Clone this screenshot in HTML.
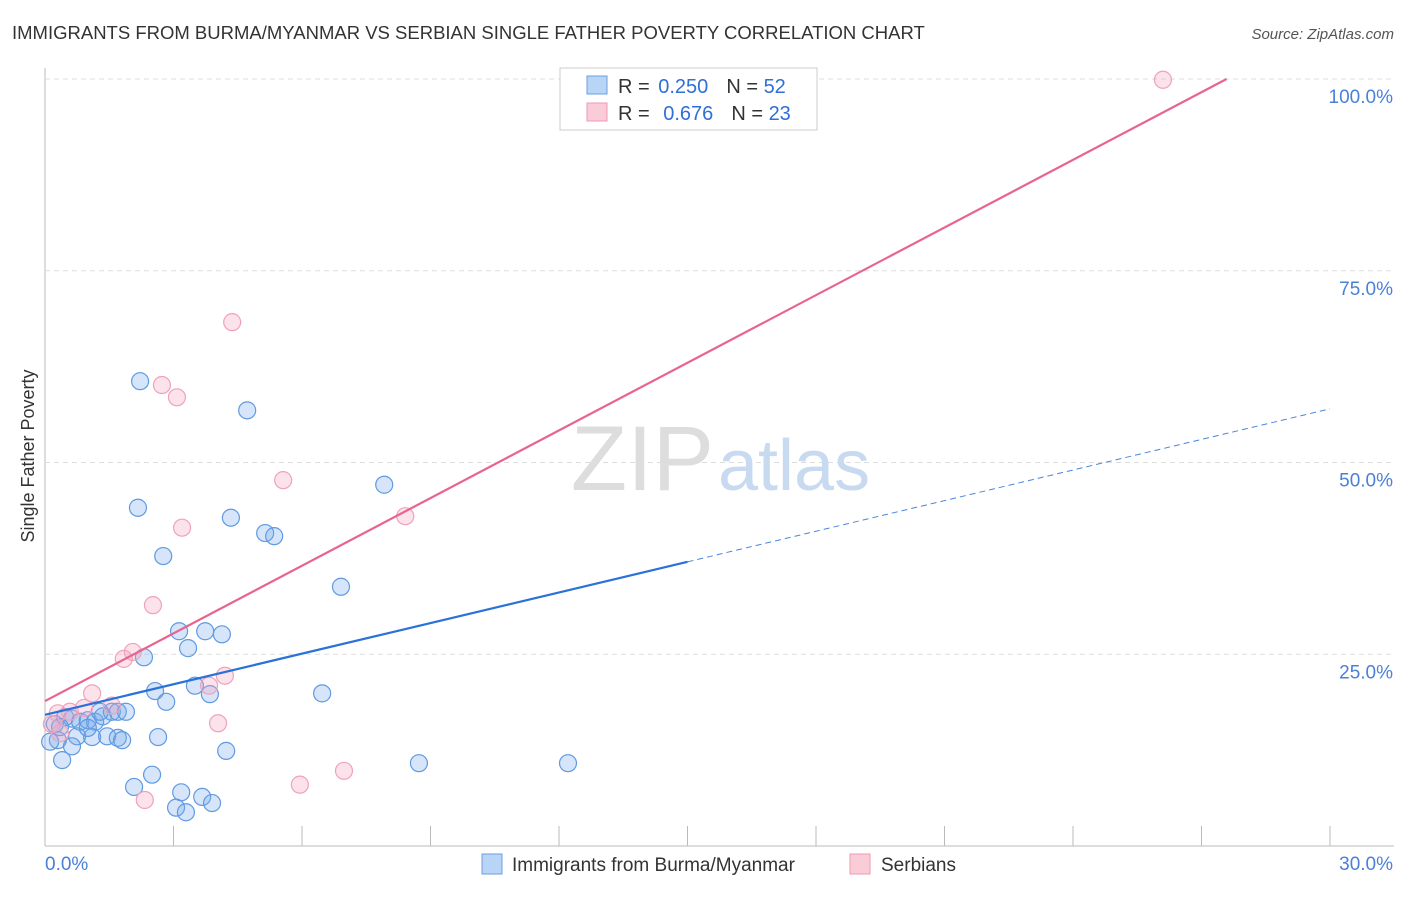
<!DOCTYPE html>
<html><head><meta charset="utf-8"><style>
body{margin:0;background:#fff;font-family:"Liberation Sans",sans-serif;}
svg text{font-family:"Liberation Sans",sans-serif;}
</style></head><body>
<svg id="chart" width="1406" height="892">
<text x="12" y="39" font-size="18.5" fill="#333">IMMIGRANTS FROM BURMA/MYANMAR VS SERBIAN SINGLE FATHER POVERTY CORRELATION CHART</text>
<text x="1394" y="39" font-size="15" fill="#555" font-style="italic" text-anchor="end">Source: ZipAtlas.com</text>
<text x="34" y="456" font-size="18" fill="#333" text-anchor="middle" transform="rotate(-90 34 456)">Single Father Poverty</text>
<g id="grid"></g>
<text x="714" y="490" font-size="92" fill="#ddd" text-anchor="end" font-family="Liberation Serif">ZIP</text>
<text x="718" y="490" font-size="72" fill="#c8daf0">atlas</text>
<g id="marks"></g>
<g id="lines"></g>
<g>
<rect x="560" y="68" width="257" height="62" fill="#fff" stroke="#ccc"/>
<rect x="587" y="76" width="20" height="18" fill="#b8d4f6" stroke="#6a9fe0"/>
<text x="618" y="93" font-size="20" fill="#333">R = <tspan fill="#2f6fd6" dx="3">0.250</tspan><tspan dx="18">N = </tspan><tspan fill="#2f6fd6">52</tspan></text>
<rect x="587" y="103" width="20" height="18" fill="#f9ccd8" stroke="#ee9ab3"/>
<text x="618" y="120" font-size="20" fill="#333">R = <tspan fill="#2f6fd6" dx="8">0.676</tspan><tspan dx="18">N = </tspan><tspan fill="#2f6fd6">23</tspan></text>
</g>
<g>
<rect x="482" y="854" width="20" height="20" fill="#b8d4f6" stroke="#6a9fe0"/>
<text x="512" y="871" font-size="19" fill="#333">Immigrants from Burma/Myanmar</text>
<rect x="850" y="854" width="20" height="20" fill="#f9ccd8" stroke="#ee9ab3"/>
<text x="881" y="871" font-size="19" fill="#333">Serbians</text>
</g>
</svg>
<script>
const xTicks=[0,3,6,9,12,15,18,21,24,27,30];
const yTicks=[25,50,75,100];
const yTickLabels=["25.0%","50.0%","75.0%","100.0%"];
const blueX=[2.22,4.72,2.17,4.34,7.92,5.14,5.35,2.76,6.91,3.13,3.74,4.13,3.34,2.31,2.57,3.50,3.85,2.83,6.47,0.23,0.47,0.63,0.82,1.00,1.17,1.35,1.56,1.70,1.89,0.30,0.12,0.75,1.10,1.45,1.70,1.80,2.64,0.63,0.40,4.23,8.73,12.21,2.50,2.08,3.18,3.67,3.06,3.90,3.29,0.35,1.28,1.00];
const blueY=[60.6,56.8,44.1,42.8,47.1,40.8,40.4,37.8,33.8,28.0,28.0,27.6,25.8,24.6,20.2,20.9,19.8,18.8,19.9,15.9,16.8,16.6,16.2,16.4,16.2,16.9,17.5,17.5,17.5,13.8,13.6,14.3,14.2,14.3,14.1,13.8,14.2,13.0,11.2,12.4,10.8,10.8,9.3,7.7,7.0,6.4,5.0,5.6,4.4,15.5,17.5,15.4];
const pinkX=[26.10,4.37,2.73,3.08,5.56,8.41,3.20,2.52,2.05,1.84,1.10,4.20,3.83,4.04,5.95,6.98,2.33,0.30,0.58,0.91,1.56,0.16,0.35];
const pinkY=[99.9,68.3,60.1,58.5,47.7,43.0,41.5,31.4,25.3,24.4,19.9,22.2,20.9,16.0,8.0,9.8,6.0,17.3,17.5,18.0,18.3,15.9,14.7];
const blueLine=[17.1,1.33];   // intercept, slope
const pinkLine=[18.9,2.94];
const NS="http://www.w3.org/2000/svg";
const sx=v=>45+v*(1285/30);
const sy=v=>846-v*7.67;
function mk(t,a,p){const e=document.createElementNS(NS,t);for(const k in a)e.setAttribute(k,a[k]);p.appendChild(e);return e;}
const grid=document.getElementById('grid');
let ax=mk('line',{x1:45,y1:68,x2:45,y2:846,stroke:'#bbb'},grid);


let bx=mk('line',{x1:45,y1:846,x2:1394,y2:846,stroke:'#bbb'},grid);


yTicks.forEach((t,i)=>{
 const g=mk('line',{x1:45,y1:sy(t),x2:1394,y2:sy(t),stroke:'#ddd','stroke-dasharray':'5,4'},grid);
 
 
 const l=mk('text',{x:1393,y:sy(t)+24,'font-size':19,fill:'#4a80d8','text-anchor':'end'},grid);
 l.textContent=yTickLabels[i];
 
 
});
xTicks.forEach(t=>{
 const k=mk('line',{x1:sx(t),y1:826,x2:sx(t),y2:846,stroke:'#bbb'},grid);
 
 
});
let l0=mk('text',{x:45,y:870,'font-size':19,fill:'#4a80d8'},grid);l0.textContent=xTicks[0].toFixed(1)+'%';


let l1=mk('text',{x:1393,y:870,'font-size':19,fill:'#4a80d8','text-anchor':'end'},grid);l1.textContent=xTicks[xTicks.length-1].toFixed(1)+'%';


const marks=document.getElementById('marks');
blueX.forEach((x,i)=>{
 const c=mk('circle',{cx:sx(x),cy:sy(blueY[i]),r:8.5,fill:'rgba(120,170,235,0.3)',stroke:'#5f9ae2','stroke-width':1.2},marks);
 
 
});
pinkX.forEach((x,i)=>{
 const c=mk('circle',{cx:sx(x),cy:sy(pinkY[i]),r:8.5,fill:'rgba(245,160,190,0.3)',stroke:'#f0a2ba','stroke-width':1.2},marks);
 
 
});
const lines=document.getElementById('lines');
const pEnd=(100-pinkLine[0])/pinkLine[1];
let pl=mk('line',{x1:sx(0),y1:sy(pinkLine[0]),x2:sx(pEnd),y2:sy(100),stroke:'#e8648f','stroke-width':2.2},lines);


let bl=mk('line',{x1:sx(0),y1:sy(blueLine[0]),x2:sx(15),y2:sy(blueLine[0]+15*blueLine[1]),stroke:'#2a72d8','stroke-width':2.2},lines);


let bd=mk('line',{x1:sx(15),y1:sy(blueLine[0]+15*blueLine[1]),x2:sx(30),y2:sy(blueLine[0]+30*blueLine[1]),stroke:'#4a86d8','stroke-width':1,'stroke-dasharray':'6,4'},lines);


</script>
</body></html>
